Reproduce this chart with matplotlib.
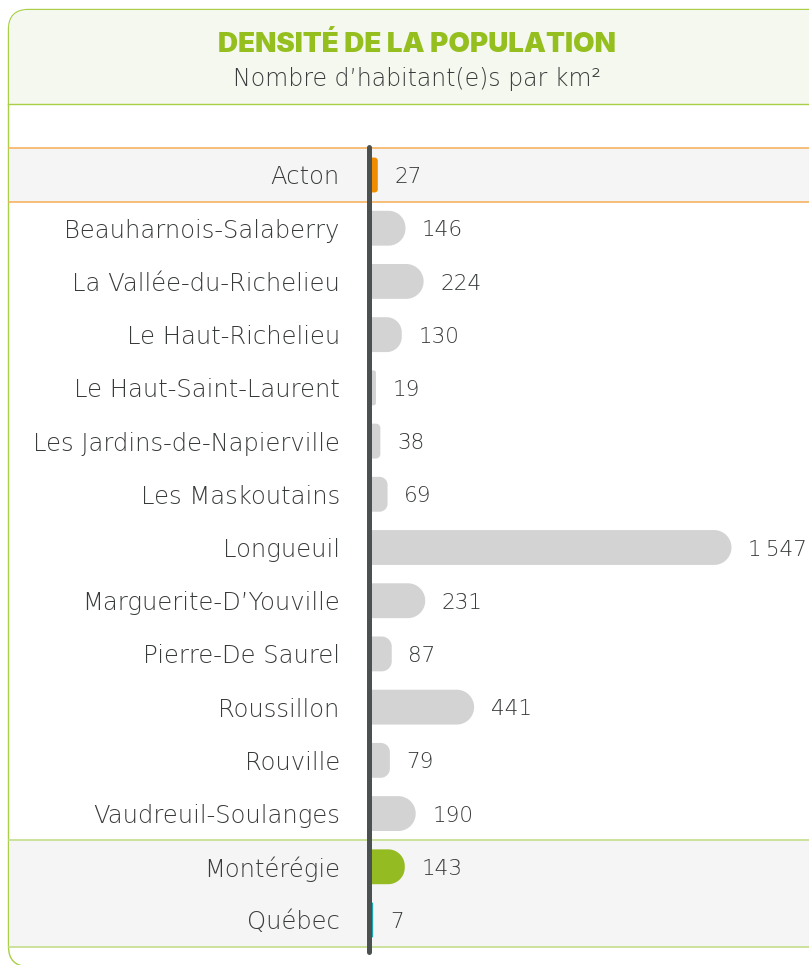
import numpy as np
import matplotlib.pyplot as plt
from matplotlib.patches import FancyBboxPatch, Rectangle
from matplotlib import transforms

# data
regions = ["Acton", "Beauharnois-Salaberry", "La Vallée-du-Richelieu", "Le Haut-Richelieu",
           "Le Haut-Saint-Laurent", "Les Jardins-de-Napierville", "Les Maskoutains", "Longueuil",
           "Marguerite-D\u2019Youville", "Pierre-De Saurel", "Roussillon", "Rouville",
           "Vaudreuil-Soulanges", "Montérégie", "Québec"]
density = [27, 146, 224, 130, 19, 38, 69, 1547, 231, 87, 441, 79, 190, 143, 7]
bar_colors = ["#ef8c00"] + ["#d4d3d4"] * 12 + ["#94bc22", "#17a8b4"]

title = "DENSITÉ DE LA POPULATION"
subtitle = "Nombre d\u2019habitant(e)s par km²"

W, H = 809, 965
green = "#95bf1f"
txt = "#383b3b"
plt.rcParams['font.family'] = ['DejaVu Sans']
plt.rcParams['font.weight'] = 'light'

fig = plt.figure(figsize=(W / 100, H / 100), dpi=100)

# decoration layer (card + header) in pixel coords
bg = fig.add_axes([0, 0, 1, 1])
bg.set_xlim(0, W)
bg.set_ylim(H, 0)
bg.axis('off')
bg.add_patch(FancyBboxPatch((8.5, 9.5), W + 40, 957, boxstyle="round,pad=0,rounding_size=20",
                            fc="white", ec="#a8cf45", lw=1.0))
bg.add_patch(FancyBboxPatch((9, 10), W + 40, 94, boxstyle="round,pad=0,rounding_size=19.5",
                            fc="#f4f8ee", ec="none"))
bg.add_patch(Rectangle((9, 40), W, 64, fc="#f4f8ee", ec="none"))
bg.plot([8.5, W], [104, 104], color="#a8cf45", lw=1.0)
bg.text(417, 45, title, ha='center', va='center', fontsize=20, family='Inter',
        fontweight='black', color=green)
bg.text(417, 79, subtitle, ha='center', va='center', fontsize=17, color=txt)

# chart axes
x0, x1 = 371.5, W
y_top, y_bot = 147, 952
ax = fig.add_axes([x0 / W, 1 - y_bot / H, (x1 - x0) / W, (y_bot - y_top) / H])
px_per_unit = 0.2327
pitch = (920 - 175) / 14
ax.set_xlim(0, (x1 - x0) / px_per_unit)
ax.set_ylim(14 + (y_bot - 920) / pitch, -(175 - y_top) / pitch)
ax.patch.set_alpha(0)
for s in ['top', 'right', 'bottom']:
    ax.spines[s].set_visible(False)
ax.spines['left'].set_position(('outward', 1.8))
ax.spines['left'].set_linewidth(3.6)
ax.spines['left'].set_color("#4b5050")
ax.spines['left'].set_capstyle('round')
ax.spines['left'].set_zorder(5)
ax.set_xticks([])
ax.set_yticks(range(len(regions)))
ax.set_yticklabels(regions, fontsize=17.5, color=txt)
ax.tick_params(axis='y', length=0, pad=21)

# row bands (Acton, Montérégie + Québec)
band_tr = transforms.blended_transform_factory(fig.transFigure, ax.transData)
for lo, hi, ec in [(-0.5, 0.5, "#f5b363"), (12.5, 14.5, "#c4de8a")]:
    ax.add_patch(Rectangle((9 / W, lo), 1, hi - lo, transform=band_tr, fc="#f5f5f5",
                           ec="none", clip_on=False, zorder=0))
    for yy in (lo, hi):
        ax.plot([8.5 / W, 1], [yy, yy], transform=band_tr, color=ec, lw=1.2,
                clip_on=False, zorder=1)

# bars with rounded right end
hh = 0.655 / 2
t = np.linspace(0, np.pi / 2, 20)
for i, (v, c) in enumerate(zip(density, bar_colors)):
    r_px = min(hh * pitch, v * px_per_unit / 2)
    rx, ry = r_px / px_per_unit, r_px / pitch
    xs = np.concatenate([[0], v - rx + rx * np.sin(t), v - rx + rx * np.cos(t), [0]])
    ys = np.concatenate([[i - hh], i - hh + ry - ry * np.cos(t), i + hh - ry + ry * np.sin(t), [i + hh]])
    ax.fill(xs, ys, color=c, lw=0, zorder=2, clip_on=False)
    label = f"{v:,}".replace(",", "\u2009")
    ax.annotate(label, (v, i), xytext=(12, -1.5), textcoords='offset points',
                ha='left', va='center', fontsize=15.5, color=txt, annotation_clip=False)

fig.savefig("out.png", dpi=100)
